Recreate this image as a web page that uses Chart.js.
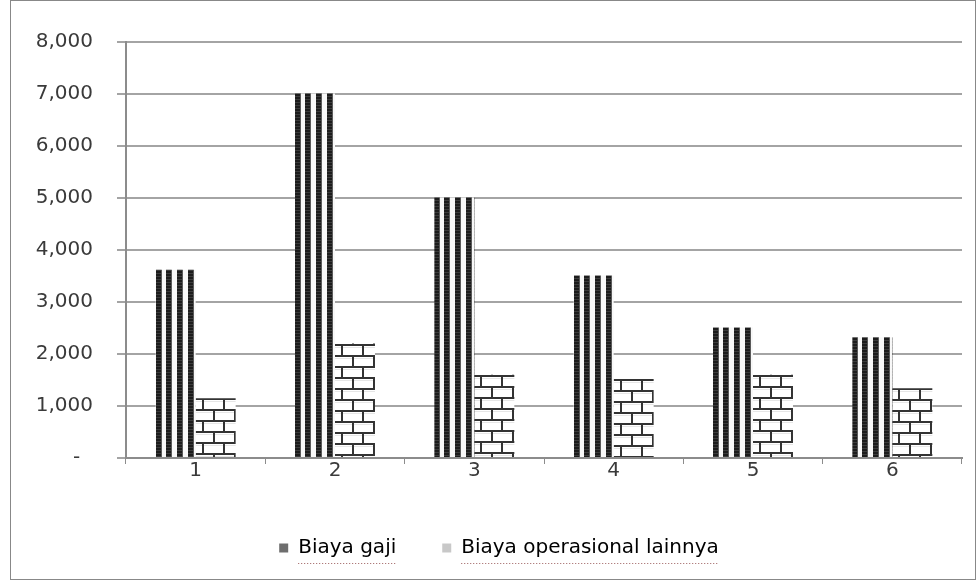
<!DOCTYPE html>
<html>
<head>
<meta charset="utf-8">
<script src="https://cdn.jsdelivr.net/npm/chart.js@4"></script>
<style>
  html, body { margin: 0; padding: 0; background: #fff; }
  #wrap { position: absolute; left: 0; top: 0; width: 979px; height: 581px; }
</style>
</head>
<body>
<div id="wrap"><canvas id="myChart" width="979" height="581"></canvas></div>
<script>
// data
const categories = ["1", "2", "3", "4", "5", "6"];
const biayaGaji = [3620, 7010, 5010, 3510, 2510, 2320];
const biayaOperasional = [1150, 2200, 1600, 1520, 1600, 1340];
const seriesNames = ["Biaya gaji", "Biaya operasional lainnya"];
const yTicks = [0, 1000, 2000, 3000, 4000, 5000, 6000, 7000, 8000];

const catPct = 0.574;

// tile for the vertical stripes (one bar wide)
function stripeTile() {
  const c = document.createElement("canvas");
  c.width = 40; c.height = 3;
  const g = c.getContext("2d");
  g.fillStyle = "#f8f8f8";
  g.fillRect(0, 0, 40, 3);
  [[0, 6], [10, 16], [21, 27], [32, 38]].forEach(function (s) {
    g.fillStyle = "#1c1c1c";
    g.fillRect(s[0], 0, s[1] - s[0], 3);
    g.fillStyle = "#3c3c3c";
    g.fillRect(s[0], 0, s[1] - s[0], 1);
    g.fillStyle = "#5a5a5a";
    g.fillRect(s[1] - 1, 0, 1, 3);
  });
  return c;
}

// tile for the bricks
function brickTile() {
  const c = document.createElement("canvas");
  c.width = 21; c.height = 22;
  const g = c.getContext("2d");
  g.fillStyle = "#ffffff";
  g.fillRect(0, 0, 21, 22);
  g.fillStyle = "#e6e6e6";
  g.fillRect(0, 3, 21, 1);
  g.fillRect(0, 14, 21, 1);
  g.fillStyle = "#333333";
  g.fillRect(0, 0, 21, 2);
  g.fillRect(0, 11, 21, 2);
  g.fillRect(6, 0, 2, 11);
  g.fillRect(17, 11, 2, 11);
  return c;
}

const ctx = document.getElementById("myChart");
const g2d = ctx.getContext("2d");
const stripes = stripeTile();
const bricks = brickTile();

function barPattern(tile, c, side) {
  const p = g2d.createPattern(tile, "repeat");
  const x = c.chart.scales.x;
  const y = c.chart.scales.y;
  if (!x || !y || c.dataIndex === undefined) return p;
  const w = (x.width / categories.length) * catPct / 2;
  const center = x.getPixelForValue(c.dataIndex);
  const left = side === 0 ? center - w : center;
  const top = y.getPixelForValue(c.raw);
  p.setTransform(new DOMMatrix([1, 0, 0, 1, Math.round(left), Math.round(top)]));
  return p;
}

// legend sits a bit left of the plot centre, dotted underline, outer frame
const extras = {
  id: "extras",
  afterLayout(chart) {
    chart.legend.left = 36;
    chart.legend.right = 962;
  },
  afterDraw(chart) {
    const c = chart.ctx;
    c.save();
    c.strokeStyle = "#888888";
    c.lineWidth = 1;
    c.strokeRect(10.5, 0.5, 965, 579);
    const lg = chart.legend;
    const fs = lg.options.labels.font.size;
    const bw = lg.options.labels.boxWidth;
    c.strokeStyle = "#9a5a5a";
    c.setLineDash([1, 2]);
    lg.legendHitBoxes.forEach(function (h) {
      const x0 = h.left + bw + fs / 2;
      const x1 = h.left + h.width;
      c.beginPath();
      c.moveTo(x0, 563.5);
      c.lineTo(x1, 563.5);
      c.stroke();
    });
    c.restore();
  },
};

Chart.defaults.font.family = "'DejaVu Sans', Verdana, sans-serif";
Chart.defaults.color = "#3a3a3a";

const myChart = new Chart(ctx, {
  type: "bar",
  data: {
    labels: categories,
    datasets: [
      {
        label: seriesNames[0],
        data: biayaGaji,
        backgroundColor: (c) => barPattern(stripes, c, 0),
        borderWidth: 0,
        categoryPercentage: catPct,
        barPercentage: 1,
      },
      {
        label: seriesNames[1],
        data: biayaOperasional,
        backgroundColor: (c) => barPattern(bricks, c, 1),
        borderWidth: 0,
        categoryPercentage: catPct,
        barPercentage: 1,
      },
    ],
  },
  options: {
    responsive: false,
    animation: false,
    layout: { padding: { left: 0, right: 17, top: 42, bottom: 13 } },
    scales: {
      x: {
        grid: { drawOnChartArea: false, tickLength: 6, color: "#8c8c8c", lineWidth: 1 },
        border: { color: "#8c8c8c", width: 2 },
        ticks: { font: { size: 20 }, padding: -5 },
        afterFit: (s) => { s.height = 34; },
      },
      y: {
        min: 0,
        max: 8000,
        afterBuildTicks: (s) => { s.ticks = yTicks.map((v) => ({ value: v })); },
        grid: { color: "#a4a4a4", lineWidth: 2, tickLength: 9 },
        border: { color: "#8c8c8c", width: 2 },
        ticks: {
          font: { size: 20 },
          padding: 24,
          callback: (v) => (v === 0 ? "-  " : v.toLocaleString("en-US")),
        },
        afterFit: (s) => { s.width = 126; },
      },
    },
    plugins: {
      tooltip: { enabled: false },
      legend: {
        position: "bottom",
        labels: {
          font: { size: 20 },
          boxWidth: 9,
          boxHeight: 9,
          padding: 46,
          color: "#3a3a3a",
          generateLabels: () => [
            { text: seriesNames[0], fillStyle: "#6e6e6e", strokeStyle: "#6e6e6e", lineWidth: 0, datasetIndex: 0 },
            { text: seriesNames[1], fillStyle: "#c8c8c8", strokeStyle: "#c8c8c8", lineWidth: 0, datasetIndex: 1 },
          ],
        },
      },
    },
  },
  plugins: [extras],
});
</script>
</body>
</html>
